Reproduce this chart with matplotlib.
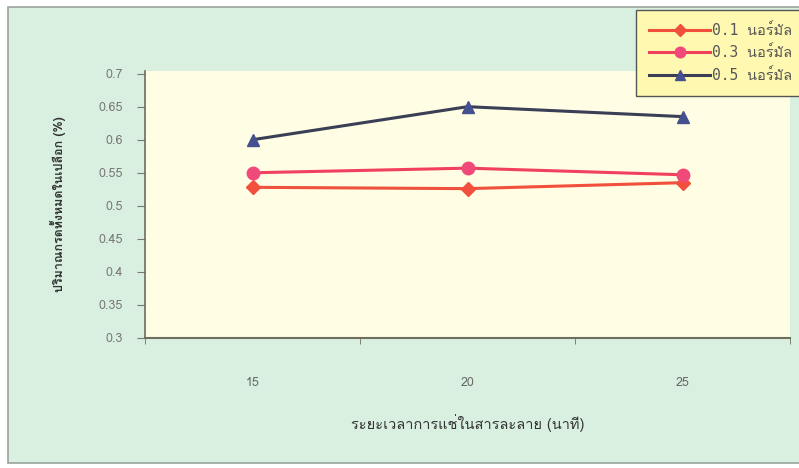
import matplotlib
matplotlib.use("Agg")
import matplotlib.pyplot as plt
from matplotlib import font_manager
from matplotlib.ft2font import FT2Font
from matplotlib.patches import Rectangle

# data
minutes = ["15", "20", "25"]
acid_01 = [0.528, 0.526, 0.535]
acid_03 = [0.550, 0.557, 0.547]
acid_05 = [0.600, 0.650, 0.635]
yticks = [0.3, 0.35, 0.4, 0.45, 0.5, 0.55, 0.6, 0.65, 0.7]
ytick_labels = ["0.3", "0.35", "0.4", "0.45", "0.5", "0.55", "0.6", "0.65", "0.7"]
series_labels = ["0.1 นอร์มัล", "0.3 นอร์มัล", "0.5 นอร์มัล"]
xlabel = "ระยะเวลาการแช่ในสารละลาย (นาที)"
ylabel = "ปริมาณกรดทั้งหมดในเปลือก (%)"


def thai_font():
    # look for any installed face that has Thai glyphs
    for f in font_manager.fontManager.ttflist:
        try:
            if 0x0E19 in FT2Font(f.fname).get_charmap():
                return f.name
        except Exception:
            pass
    return None


th = thai_font()
fams = [th, "DejaVu Sans"] if th else ["DejaVu Sans"]
plt.rcParams["font.family"] = fams
mono = ["DejaVu Sans Mono", th] if th else ["DejaVu Sans Mono"]

fig = plt.figure(figsize=(7.99, 4.68), dpi=100)
fig.patch.set_facecolor("white")
fig.patches.append(Rectangle((8 / 799, 0.01), 1.0, 1 - 7 / 468 - 0.01,
                             transform=fig.transFigure, facecolor="#d9f0e1",
                             edgecolor="#9aa39c", linewidth=1.2, zorder=-1))

ax = fig.add_axes([145 / 799, 1 - 338 / 468, (790 - 145) / 799, (338 - 71) / 468])
ax.set_zorder(2)
ax.set_facecolor("#fffde3")

x = range(len(minutes))
ax.plot(x, acid_01, color="#f0503c", lw=2.2, marker="D", ms=7,
        markerfacecolor="#f0503c", markeredgecolor="#f0503c", label=series_labels[0])
ax.plot(x, acid_03, color="#f0405e", lw=2.2, marker="o", ms=9,
        markerfacecolor="#f04a7a", markeredgecolor="#f04a7a", label=series_labels[1])
ax.plot(x, acid_05, color="#3a3f55", lw=2.2, marker="^", ms=9,
        markerfacecolor="#45508e", markeredgecolor="#45508e", label=series_labels[2])

ax.set_xlim(-0.5, len(minutes) - 0.5)
ax.set_ylim(0.3, 0.704)
ax.set_yticks(yticks)
ax.set_yticklabels(ytick_labels)
ax.set_xticks(list(x))
ax.set_xticklabels(minutes)
ax.set_xticks([i - 0.5 for i in range(len(minutes) + 1)], minor=True)
ax.tick_params(axis="x", which="major", length=0, pad=28, labelsize=9, labelcolor="#666")
ax.tick_params(axis="x", which="minor", length=4, color="#6e6e5e", direction="out")
ax.tick_params(axis="y", length=6, color="#777", labelsize=9, labelcolor="#777", pad=10)

for s in ["top", "right"]:
    ax.spines[s].set_visible(False)
ax.spines["left"].set_color("#6e6e5e")
ax.spines["bottom"].set_color("#6e6e5e")
ax.spines["left"].set_linewidth(1.2)
ax.spines["bottom"].set_linewidth(1.5)

ax.set_xlabel(xlabel, fontsize=10.5, color="#333", labelpad=18)
ax.set_ylabel(ylabel, fontsize=9, color="#333", fontweight="bold", labelpad=23)

leg = ax.legend(loc="upper left", bbox_to_anchor=(636 / 799, 1 - 10 / 468),
                bbox_transform=fig.transFigure,
                prop={"family": mono, "size": 10.5}, frameon=True, fancybox=False,
                borderaxespad=0, handlelength=4.2, handletextpad=0.1, labelspacing=0.5,
                borderpad=0.9, labelcolor="#555", markerscale=0.85)
leg.get_frame().set_facecolor("#fff8b0")
leg.get_frame().set_edgecolor("#555")
leg.get_frame().set_alpha(1)

fig.savefig("out.png", dpi=100)
